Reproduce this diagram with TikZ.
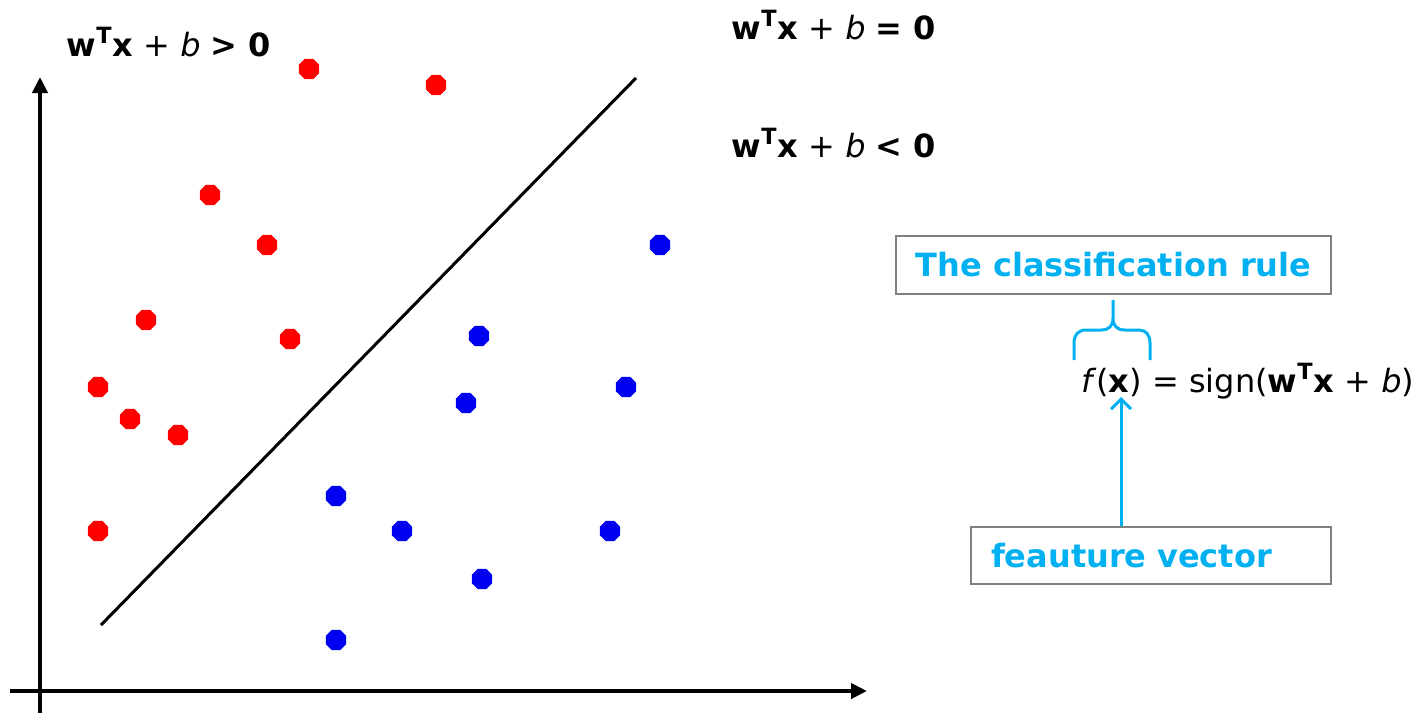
\documentclass[tikz,border=0pt]{standalone}
\usepackage{fontspec}
\setmainfont{DejaVu Sans}
\usetikzlibrary{arrows.meta,shapes.geometric,positioning}

\definecolor{ruleblue}{HTML}{00B0F0}
\definecolor{dotred}{HTML}{FF0000}
\definecolor{dotblue}{HTML}{0000F0}

\begin{document}
\begin{tikzpicture}[x=0.5pt, y=-0.5pt,
    axis/.style={line width=2pt, -{Triangle[length=8pt, width=7.5pt]}},
    dot/.style={regular polygon, regular polygon sides=8, minimum size=11pt, inner sep=0pt},
    reddot/.style={dot, fill=dotred},
    bluedot/.style={dot, fill=dotblue},
    label/.style={font=\fontsize{16}{18}\selectfont},
    rulebox/.style={draw=gray, line width=1pt, font=\fontsize{16}{18}\selectfont\bfseries, text=ruleblue}]
    \useasboundingbox (0,0) rectangle (1423,713);

    \coordinate (xstart) at (10,691);
    \coordinate (xend) at (867,691);
    \coordinate (ystart) at (40,713);
    \coordinate (yend) at (40,77);
    \draw[axis] (xstart) -- (xend);
    \draw[axis] (ystart) -- (yend);

    \coordinate (low) at (101,625);
    \coordinate (high) at (636,78);
    \draw[line width=1.5pt] (low) -- (high);

    \foreach \px/\py [count=\i] in {309/69, 436/85, 210/195, 267/245, 146/320, 290/339, 98/387, 130/419, 178/435, 98/531}
        \node (red\i) [reddot] at (\px,\py) {};
    \foreach \px/\py [count=\i] in {660/245, 479/336, 626/387, 466/403, 336/496, 402/531, 610/531, 482/579, 336/640}
        \node (blue\i) [bluedot] at (\px,\py) {};

    \node (pos) [label] at (169,42) {\textbf{w\textsuperscript{T}x} + \textit{b} \textbf{> 0}};
    \node (zero) [label] at (834,25) {\textbf{w\textsuperscript{T}x} + \textit{b} \textbf{= 0}};
    \node (neg) [label] at (834,143) {\textbf{w\textsuperscript{T}x} + \textit{b} \textbf{< 0}};

    \node (rule) [rulebox, minimum width=217.5pt, minimum height=29pt] at (1113.5,265) {The classification rule};
    \node (formula) [label, anchor=west] at (1074,381) {\textit{f}(\textbf{x}) = sign(\textbf{w\textsuperscript{T}x} + \textit{b})};
    \node (feature) [rulebox, minimum width=180pt, minimum height=28.5pt, text width=160pt, inner xsep=10pt, align=left] at (1151,555.5) {feauture vector};

    \draw[ruleblue, line width=1.5pt] (1074,360) -- (1074,343) .. controls (1074,335) and (1078,330) .. (1086,330) -- (1101,330) .. controls (1109,330) and (1113,326) .. (1113,318) -- (1113,300)
        (1113,318) .. controls (1113,326) and (1117,330) .. (1125,330) -- (1139,330) .. controls (1146,330) and (1150,335) .. (1150,343) -- (1150,360);

    \coordinate (xarg) at (1121,397);
    \draw[ruleblue, line width=1.5pt, -{Straight Barb[length=5pt, width=10pt]}] (feature.north -| xarg) -- (xarg);
\end{tikzpicture}
\end{document}
